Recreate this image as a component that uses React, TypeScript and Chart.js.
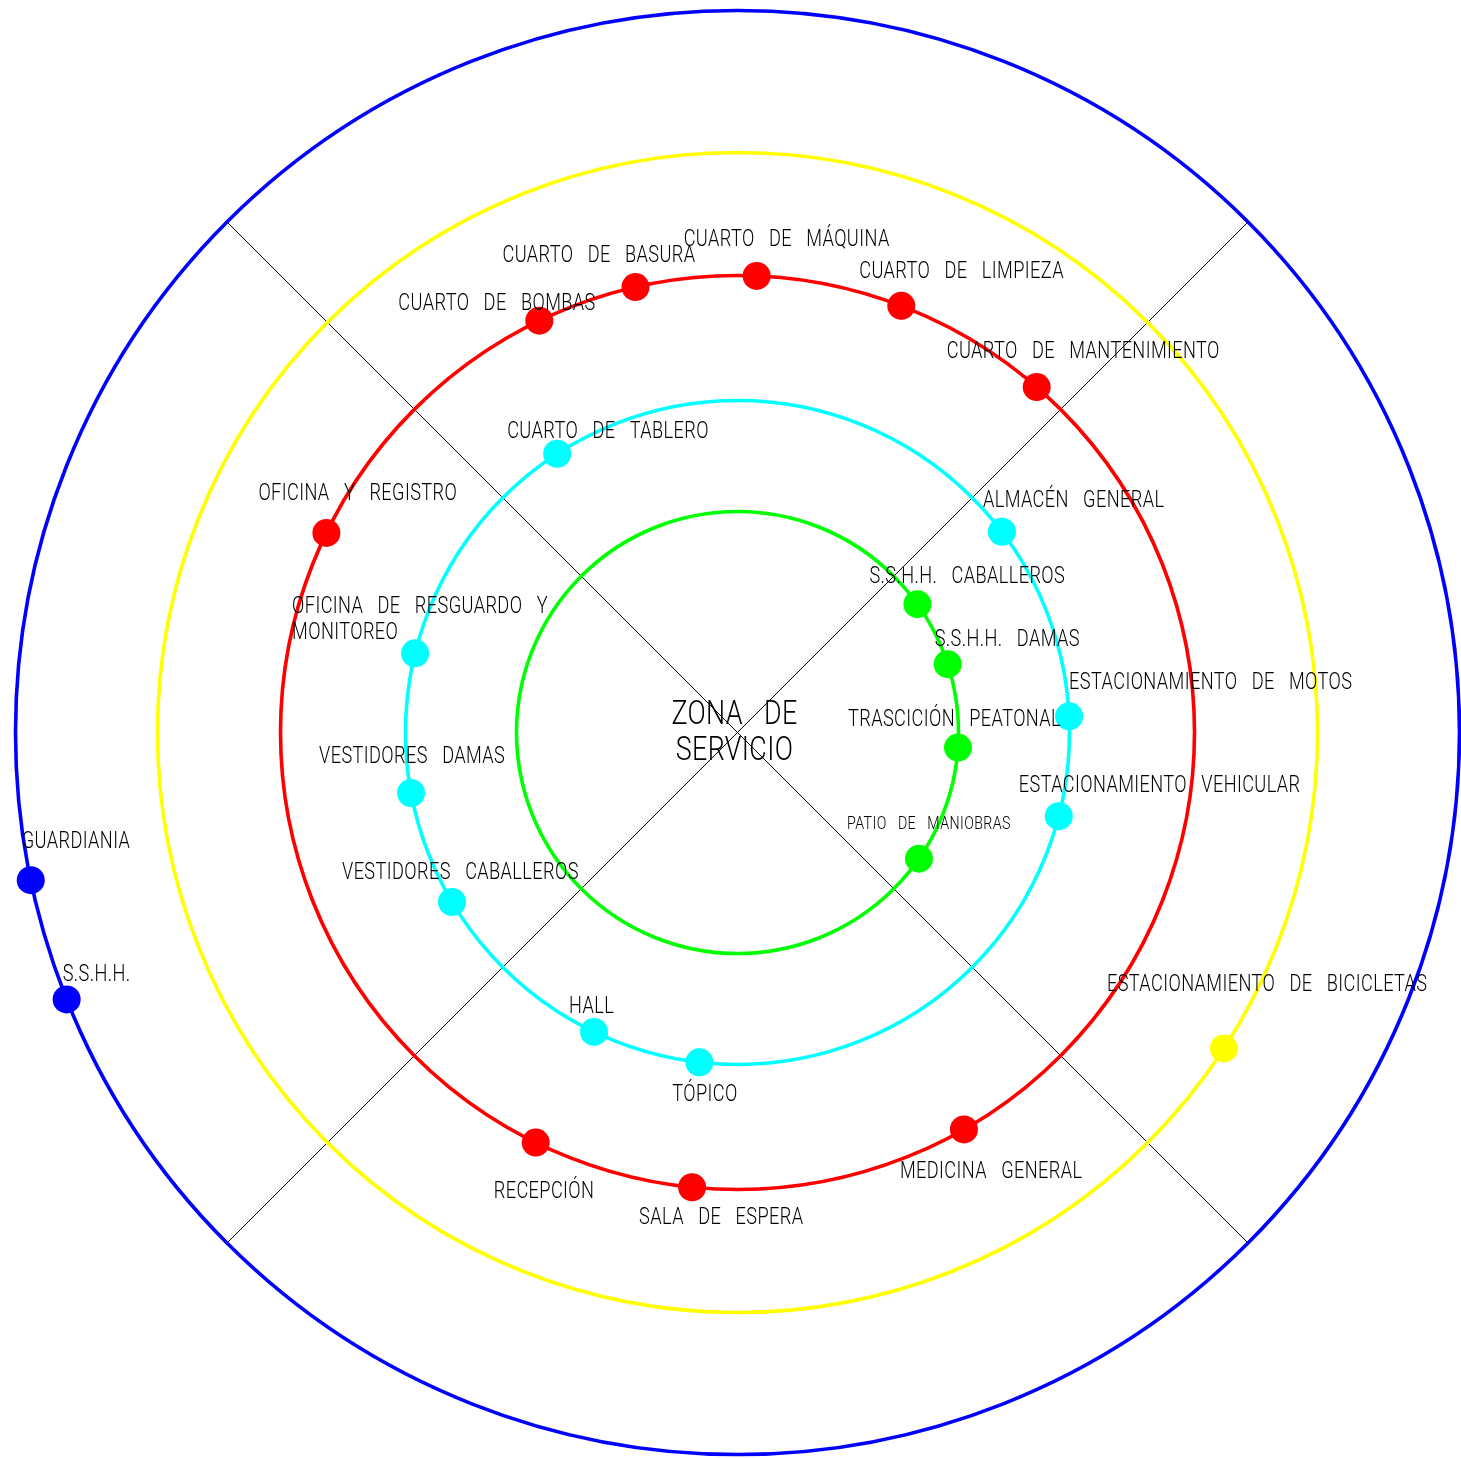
import React, { useEffect, useRef } from 'react';
import { Chart, registerables } from 'chart.js';

Chart.register(...registerables);

// ---------- DATA ----------
const centerTitle = ['ZONA DE', 'SERVICIO'];

const ringRadii = [221, 332, 457, 580, 722]; // green, cyan, red, yellow, blue
const ringColors = ['#00FF00', '#00FFFF', '#FF0000', '#FFFF00', '#0000FF'];

const greenLabels = ['S.S.H.H. CABALLEROS', 'S.S.H.H. DAMAS', 'TRASCICIÓN PEATONAL', 'PATIO DE MANIOBRAS'];
const greenAngles = [35.5, 18, -3.9, -34.8];

const cyanLabels = [
  'CUARTO DE TABLERO', 'ALMACÉN GENERAL', 'ESTACIONAMIENTO DE MOTOS', 'ESTACIONAMIENTO VEHICULAR',
  'OFICINA DE RESGUARDO Y\nMONITOREO', 'VESTIDORES DAMAS', 'VESTIDORES CABALLEROS', 'HALL', 'TÓPICO',
];
const cyanAngles = [122.9, 37.2, 2.8, -14.6, 166.2, 190.5, 210.7, 244.4, 263.4];

const redLabels = [
  'CUARTO DE MÁQUINA', 'CUARTO DE BASURA', 'CUARTO DE BOMBAS', 'CUARTO DE LIMPIEZA',
  'CUARTO DE MANTENIMIENTO', 'OFICINA Y REGISTRO', 'RECEPCIÓN', 'SALA DE ESPERA', 'MEDICINA GENERAL',
];
const redAngles = [87.6, 102.9, 115.7, 69.0, 49.1, 154.1, 243.8, 264.3, 299.7];

const yellowLabels = ['ESTACIONAMIENTO DE BICICLETAS'];
const yellowAngles = [-33];

const blueLabels = ['GUARDIANIA', 'S.S.H.H.'];
const blueAngles = [191.8, 201.7];

const axisAngles = [45, 135];
const axisRadius = 722;

// ---------- LAYOUT (label placement relative to point, px) ----------
const labelOffsets: Record<string, [number, number]> = {
  'CUARTO DE MÁQUINA': [-73, -38],
  'CUARTO DE BASURA': [-133, -33],
  'CUARTO DE BOMBAS': [-141, -19],
  'CUARTO DE LIMPIEZA': [-42, -36],
  'CUARTO DE MANTENIMIENTO': [-90, -37],
  'OFICINA Y REGISTRO': [-68, -41],
  'RECEPCIÓN': [-42, 47],
  'SALA DE ESPERA': [-53, 29],
  'MEDICINA GENERAL': [-64, 40],
  'CUARTO DE TABLERO': [-50, -24],
  'ALMACÉN GENERAL': [-19, -33],
  'ESTACIONAMIENTO DE MOTOS': [0, -35],
  'ESTACIONAMIENTO VEHICULAR': [-40, -32],
  'OFICINA DE RESGUARDO Y\nMONITOREO': [-123, -48],
  'VESTIDORES DAMAS': [-92, -38],
  'VESTIDORES CABALLEROS': [-110, -31],
  'HALL': [-25, -27],
  'TÓPICO': [-27, 31],
  'S.S.H.H. CABALLEROS': [-48, -29],
  'S.S.H.H. DAMAS': [-13, -26],
  'TRASCICIÓN PEATONAL': [-110, -30],
  'PATIO DE MANIOBRAS': [-72, -36],
  'ESTACIONAMIENTO DE BICICLETAS': [-117, -66],
  'GUARDIANIA': [-9, -40],
  'S.S.H.H.': [-4, -27],
};
const smallLabels = ['PATIO DE MANIOBRAS'];

const W = 1461;
const H = 1458;
const CX = 737.5;
const CY = 732.5;

const FONT = 'Roboto, "Liberation Sans", sans-serif';
const SCALE_X = 0.79;

const toXY = (angles: number[], r: number) =>
  angles.map((a) => ({ x: r * Math.cos((a * Math.PI) / 180), y: r * Math.sin((a * Math.PI) / 180) }));

function drawText(ctx: CanvasRenderingContext2D, text: string, x: number, yCenter: number, size: number, align: 'left' | 'center') {
  ctx.save();
  ctx.font = `300 ${size}px ${FONT}`;
  (ctx as any).letterSpacing = '0.5px';
  (ctx as any).wordSpacing = `${size * 0.52}px`;
  ctx.textBaseline = 'alphabetic';
  ctx.fillStyle = '#000';
  ctx.translate(x, yCenter + size * 0.711 / 2);
  ctx.scale(SCALE_X, 1);
  if (align === 'center') {
    const w = ctx.measureText(text).width;
    ctx.fillText(text, -w / 2, 0);
  } else {
    ctx.fillText(text, 0, 0);
  }
  ctx.restore();
}

const ringsPlugin = {
  id: 'rings',
  beforeDatasetsDraw(chart: any) {
    const { ctx, scales } = chart;
    const xs = scales.x;
    const ys = scales.y;
    const cx = xs.getPixelForValue(0);
    const cy = ys.getPixelForValue(0);
    ctx.save();
    ctx.strokeStyle = '#000';
    ctx.lineWidth = 1;
    axisAngles.forEach((a) => {
      const rad = (a * Math.PI) / 180;
      const dx = axisRadius * Math.cos(rad);
      const dy = axisRadius * Math.sin(rad);
      ctx.beginPath();
      ctx.moveTo(xs.getPixelForValue(dx), ys.getPixelForValue(dy));
      ctx.lineTo(xs.getPixelForValue(-dx), ys.getPixelForValue(-dy));
      ctx.stroke();
    });
    ringRadii.forEach((r, i) => {
      const rp = xs.getPixelForValue(r) - cx;
      ctx.beginPath();
      ctx.arc(cx, cy, rp, 0, Math.PI * 2);
      ctx.strokeStyle = ringColors[i];
      ctx.lineWidth = 3.6;
      ctx.stroke();
    });
    ctx.restore();
  },
  afterDatasetsDraw(chart: any) {
    const { ctx, scales } = chart;
    const cx = scales.x.getPixelForValue(0);
    const cy = scales.y.getPixelForValue(0);
    drawText(ctx, centerTitle[0], cx - 3, cy - 21, 34, 'center');
    drawText(ctx, centerTitle[1], cx - 3, cy + 15, 34, 'center');
    chart.data.datasets.forEach((ds: any, di: number) => {
      const meta = chart.getDatasetMeta(di);
      const labels: string[] = ds.pointLabels || [];
      meta.data.forEach((el: any, i: number) => {
        const label = labels[i];
        if (!label) return;
        const off = labelOffsets[label] || [0, -30];
        const size = smallLabels.includes(label) ? 18 : 23;
        const lines = label.split('\n');
        lines.forEach((line, li) => {
          drawText(ctx, line, el.x + off[0], el.y + off[1] + li * 26, size, 'left');
        });
      });
    });
  },
};

export default function App() {
  const ref = useRef<HTMLCanvasElement | null>(null);
  useEffect(() => {
    document.body.style.margin = '0';
    const canvas = ref.current;
    if (!canvas) return;
    const mk = (labels: string[], angles: number[], ringIdx: number) => ({
      label: labels.join(', '),
      pointLabels: labels,
      data: toXY(angles, ringRadii[ringIdx]),
      backgroundColor: ringColors[ringIdx],
      borderColor: ringColors[ringIdx],
      pointRadius: 14,
      pointHoverRadius: 14,
      borderWidth: 0,
      showLine: false,
      clip: false,
    });
    const chart = new Chart(canvas, {
      type: 'scatter',
      data: {
        datasets: [
          mk(greenLabels, greenAngles, 0),
          mk(cyanLabels, cyanAngles, 1),
          mk(redLabels, redAngles, 2),
          mk(yellowLabels, yellowAngles, 3),
          mk(blueLabels, blueAngles, 4),
        ] as any,
      },
      options: {
        responsive: false,
        maintainAspectRatio: false,
        animation: false,
        events: [],
        layout: { padding: 0, autoPadding: false },
        plugins: { legend: { display: false }, tooltip: { enabled: false } },
        scales: {
          x: { type: 'linear', display: false, min: -CX, max: W - CX },
          y: { type: 'linear', display: false, min: -(H - CY), max: CY },
        },
      },
      plugins: [ringsPlugin],
    });
    return () => chart.destroy();
  }, []);
  return (
    <div style={{ width: W, height: H, background: '#fff' }}>
      <canvas ref={ref} width={W} height={H} style={{ display: 'block', width: W, height: H }} />
    </div>
  );
}
